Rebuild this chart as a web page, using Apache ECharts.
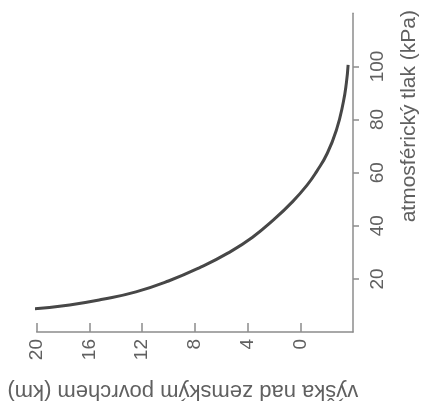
<!DOCTYPE html>
<html>
<head>
<meta charset="utf-8">
<script src="https://cdn.jsdelivr.net/npm/echarts@6/dist/echarts.min.js"></script>
<style>html,body{margin:0;padding:0;background:#fff}#c{width:428px;height:407px}</style>
</head>
<body>
<div id="c"></div>
<script>
// height above surface (km) and atmospheric pressure (kPa)
const heightKm = [-3.63, -3.5, -3.26, -2.75, -2.05, -1.25, -0.5, 0.62, 1.97, 3.62, 5.5, 7.52, 10.0, 12.47, 15.0, 17.5, 20.27];
const pressureKPa = [100.6, 93.9, 86.4, 76.2, 67.3, 60.5, 55.2, 48.9, 42.5, 35.7, 29.7, 24.5, 19.2, 15.1, 12.3, 10.2, 8.7];
const heightTicks = [0, 4, 8, 12, 16, 20];
const pressureTicks = [20, 40, 60, 80, 100];
const xName = 'výška nad zemským povrchem (km)';
const yName = 'atmosférický tlak (kPa)';

const font = 'Liberation Sans';
const axisColor = '#8c8c8c';
const textColor = '#606060';

const chart = echarts.init(document.getElementById('c'), null, {renderer: 'canvas'});
chart.setOption({
  animation: false,
  backgroundColor: '#ffffff',
  grid: {left: 36.7, right: 71.4, top: 13.3, bottom: 73.7, containLabel: false},
  xAxis: {
    type: 'value', inverse: true, min: -4, max: 20, interval: 4,
    name: xName, nameLocation: 'middle', nameGap: 48, nameRotate: 180,
    nameTextStyle: {fontFamily: font, fontSize: 22, color: textColor, padding: [0, 0, 0, 24]},
    axisLine: {show: true, onZero: false, lineStyle: {color: axisColor, width: 1.5}},
    axisTick: {show: true, inside: true, length: 9, customValues: heightTicks, lineStyle: {color: axisColor, width: 1.5}},
    axisLabel: {rotate: 90, margin: 7, fontFamily: font, fontSize: 19, color: textColor, customValues: heightTicks},
    splitLine: {show: false}
  },
  yAxis: {
    type: 'value', position: 'right', min: 0, max: 120, interval: 20,
    name: yName, nameLocation: 'middle', nameGap: 46, nameRotate: 90,
    nameTextStyle: {fontFamily: font, fontSize: 21, color: textColor, padding: [0, 0, 0, 113]},
    axisLine: {show: true, onZero: false, lineStyle: {color: axisColor, width: 1.5}},
    axisTick: {show: true, inside: false, length: 6, customValues: pressureTicks, lineStyle: {color: axisColor, width: 1.5}},
    axisLabel: {rotate: 90, margin: 15, fontFamily: font, fontSize: 19, color: textColor, customValues: pressureTicks},
    splitLine: {show: false}
  },
  series: [{
    type: 'line', smooth: true, showSymbol: false,
    data: heightKm.map((h, i) => [h, pressureKPa[i]]),
    lineStyle: {color: '#474747', width: 3}
  }]
});
</script>
</body>
</html>
